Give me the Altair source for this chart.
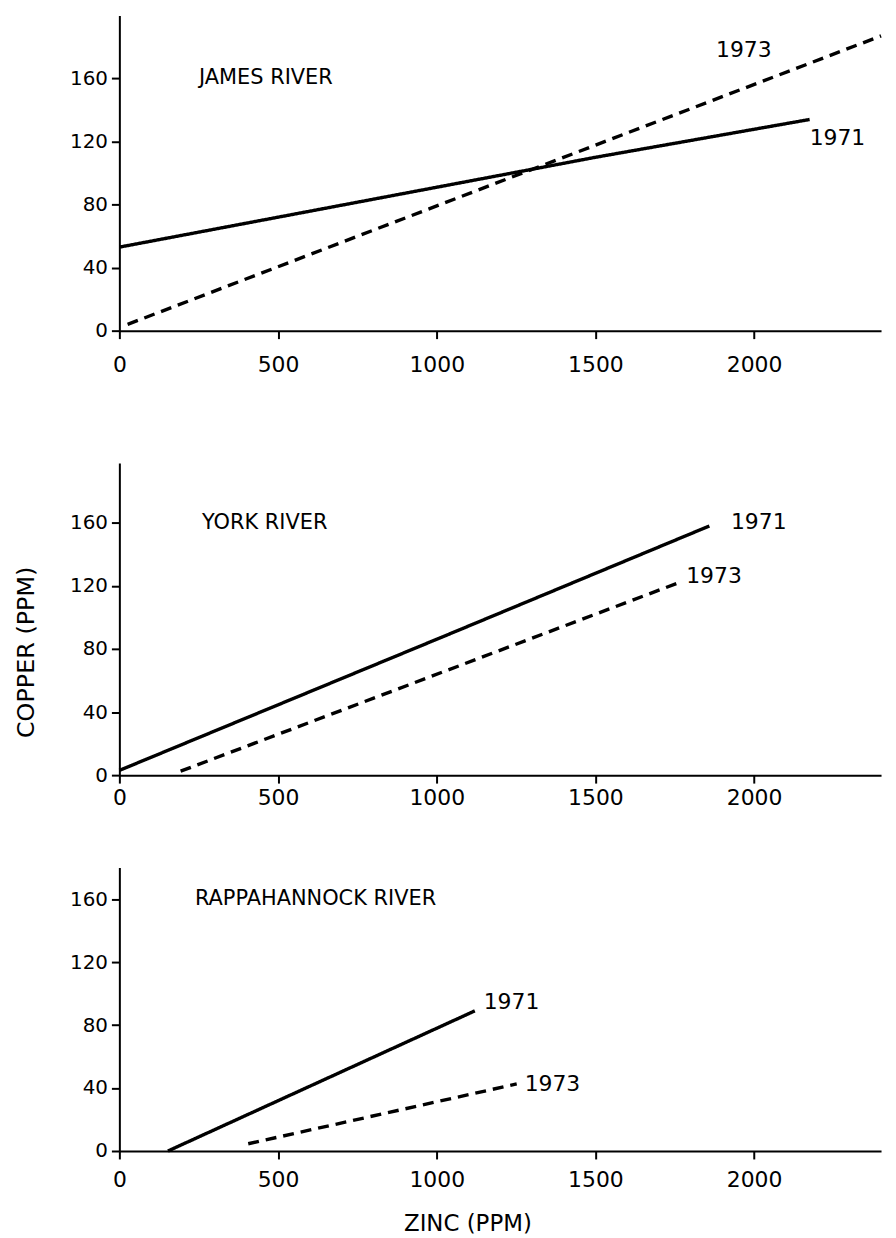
import altair as alt
import pandas as pd

FONT = "DejaVu Sans"

# ---- data ----------------------------------------------------------------
rivers = ["JAMES RIVER", "YORK RIVER", "RAPPAHANNOCK RIVER"]

james_1971_zinc = [0, 1000, 1500, 2175]
james_1971_cu = [53, 91, 110, 134]
james_1973_zinc = [26, 1270, 2400]
james_1973_cu = [4, 100, 187]

york_1971_zinc = [0, 1034, 1859]
york_1971_cu = [3, 89, 158]
york_1973_zinc = [193, 1775]
york_1973_cu = [2.5, 123]

rapp_1971_zinc = [153, 1120]
rapp_1971_cu = [0, 89]
rapp_1973_zinc = [406, 1252]
rapp_1973_cu = [4.6, 42.6]

# year-label anchors (zinc, copper) per river
label_years = ["1971", "1973"]
james_label_zinc = [2175, 1880]
james_label_cu = [122, 178]
york_label_zinc = [1927, 1786]
york_label_cu = [160.6, 126]
rapp_label_zinc = [1148, 1277]
rapp_label_cu = [94.8, 42.5]

# river-name anchors
river_name_zinc = [251, 260, 238]
river_name_cu = [160, 160, 160]

x_ticks = [0, 500, 1000, 1500, 2000]
y_ticks = [0, 40, 80, 120, 160]


def lines_df(z71, c71, z73, c73):
    rows = [{"zinc": z, "cu": c, "year": "1971"} for z, c in zip(z71, c71)]
    rows += [{"zinc": z, "cu": c, "year": "1973"} for z, c in zip(z73, c73)]
    return pd.DataFrame(rows)


def labels_df(zs, cs):
    return pd.DataFrame({"zinc": zs, "cu": cs, "text": label_years})


def panel(i, ldf, labdf, ymax, height, yrange, xlabpad, xtitle, ytitle):
    xaxis = dict(
        values=x_ticks, format="d", labelFlush=False, labelOverlap=False,
        labelFontSize=22, labelFont=FONT, labelColor="black",
        labelPadding=xlabpad, tickSize=8, tickWidth=2, tickColor="black",
        domainColor="black", domainWidth=2, grid=False,
    )
    if xtitle:
        xaxis.update(title="ZINC (PPM)", titleFont=FONT, titleFontSize=23,
                     titleFontWeight="normal", titleColor="black",
                     titleX=350, titleY=61.6, titleBaseline="top")
    else:
        xaxis.update(title=None)
    yaxis = dict(
        values=y_ticks, format="d", labelFontSize=20, labelFont=FONT,
        labelColor="black", labelPadding=4, tickSize=8, tickWidth=2,
        tickColor="black", domainColor="black", domainWidth=2, grid=False,
    )
    if ytitle:
        yaxis.update(title="COPPER (PPM)", titleFont=FONT, titleFontSize=24,
                     titleFontWeight="normal", titleColor="black",
                     titlePadding=31.5, titleY=230)
    else:
        yaxis.update(title=None)

    yscale = dict(domain=[0, ymax], nice=False, zero=True)
    if yrange is not None:
        yscale["range"] = yrange

    X = alt.X("zinc:Q", scale=alt.Scale(domain=[0, 2400], nice=False),
              axis=alt.Axis(**xaxis))
    Y = alt.Y("cu:Q", scale=alt.Scale(**yscale), axis=alt.Axis(**yaxis))

    line = alt.Chart(ldf).mark_line(color="black", strokeWidth=3.4,
                                    strokeCap="butt").encode(
        x=X, y=Y,
        detail="year:N",
        strokeDash=alt.StrokeDash(
            "year:N",
            scale=alt.Scale(domain=["1971", "1973"], range=[[1, 0], [11, 7]]),
            legend=None),
    )
    yr = alt.Chart(labdf).mark_text(align="left", baseline="middle",
                                    font=FONT, fontSize=22,
                                    color="black").encode(x=X, y=Y, text="text:N")
    name_df = pd.DataFrame({"zinc": [river_name_zinc[i]],
                            "cu": [river_name_cu[i]],
                            "text": [rivers[i]]})
    nm = alt.Chart(name_df).mark_text(align="left", baseline="middle",
                                      font=FONT, fontSize=21,
                                      color="black").encode(x=X, y=Y, text="text:N")
    return alt.layer(line, yr, nm).properties(width=766, height=height)


p1 = panel(0, lines_df(james_1971_zinc, james_1971_cu, james_1973_zinc, james_1973_cu),
           labels_df(james_label_zinc, james_label_cu),
           200, 317, None, 15.7, False, False)
p2 = panel(1, lines_df(york_1971_zinc, york_1971_cu, york_1973_zinc, york_1973_cu),
           labels_df(york_label_zinc, york_label_cu),
           198, 354, [354, 40], 4.7, False, True)
p3 = panel(2, lines_df(rapp_1971_zinc, rapp_1971_cu, rapp_1973_zinc, rapp_1973_cu),
           labels_df(rapp_label_zinc, rapp_label_cu),
           180, 285, None, 11, True, False)

chart = alt.vconcat(p1, p2, p3, spacing=93, bounds="flush").properties(
    padding={"left": 6, "top": 4, "right": 0, "bottom": 0},
    background="white",
).configure_view(strokeWidth=0)

chart.save("out.html", embed_options={"renderer": "svg", "actions": False})
